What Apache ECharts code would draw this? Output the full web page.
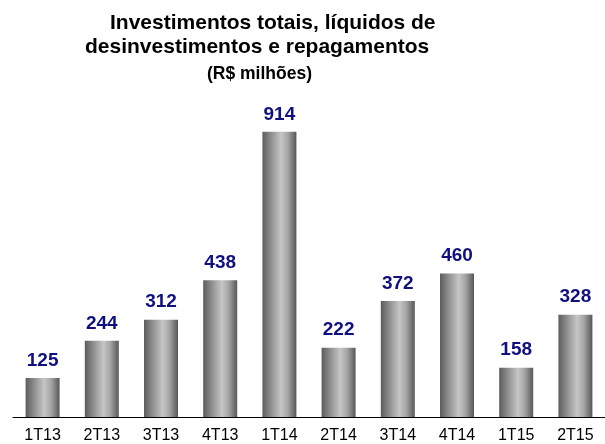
<!DOCTYPE html>
<html>
<head>
<meta charset="utf-8">
<script src="https://cdn.jsdelivr.net/npm/echarts@6/dist/echarts.min.js"></script>
<style>
  html, body { margin: 0; padding: 0; background: #fff; }
  #chart { width: 605px; height: 444px; }
</style>
</head>
<body>
<div id="chart"></div>
<script>
// 数据
var quarters = ['1T13', '2T13', '3T13', '4T13', '1T14', '2T14', '3T14', '4T14', '1T15', '2T15'];
var investimentos = [125, 244, 312, 438, 914, 222, 372, 460, 158, 328];
var titleLines = ['Investimentos totais, líquidos de', 'desinvestimentos e repagamentos', '(R$ milhões)'];

(function () {
    var font = '"Liberation Sans", Arial, sans-serif';

    // 柱子的圆柱渐变
    var barColor = {
        type: 'linear', x: 0, y: 0, x2: 1, y2: 0,
        colorStops: [
            { offset: 0, color: '#5c5c5c' },
            { offset: 0.25, color: '#8e8e8e' },
            { offset: 0.55, color: '#c6c6c6' },
            { offset: 0.75, color: '#a4a4a4' },
            { offset: 1, color: '#575757' }
        ]
    };

    var option = {
        animation: false,
        title: [
            { text: titleLines[0], left: 110, top: 13, padding: 0,
              textStyle: { fontSize: 21, fontWeight: 'bold', color: '#000', fontFamily: font } },
            { text: titleLines[1], left: 85, top: 37, padding: 0,
              textStyle: { fontSize: 21, fontWeight: 'bold', color: '#000', fontFamily: font } },
            { text: titleLines[2], left: 207, top: 65, padding: 0,
              textStyle: { fontSize: 17.5, fontWeight: 'bold', color: '#000', fontFamily: font } }
        ],
        grid: {
            left: 13,
            right: -11,
            top: 105,
            bottom: 26
        },
        xAxis: {
            type: 'category',
            data: quarters,
            axisTick: { show: false },
            axisLine: { show: true, lineStyle: { color: '#000', width: 1 } },
            axisLabel: { color: '#000', fontSize: 16, fontFamily: font, margin: 11 }
        },
        yAxis: {
            type: 'value',
            min: 0,
            max: 1000,
            show: false,
            splitLine: { show: false }
        },
        series: [{
            type: 'bar',
            data: investimentos,
            barWidth: 34,
            itemStyle: { color: barColor },
            label: {
                show: true,
                position: 'top',
                distance: 8,
                color: '#10107f',
                fontSize: 19,
                fontWeight: 'bold',
                fontFamily: font
            }
        }]
    };

    var myechart = echarts.init(document.getElementById('chart'));
    myechart.setOption(option);
})();
</script>
</body>
</html>
